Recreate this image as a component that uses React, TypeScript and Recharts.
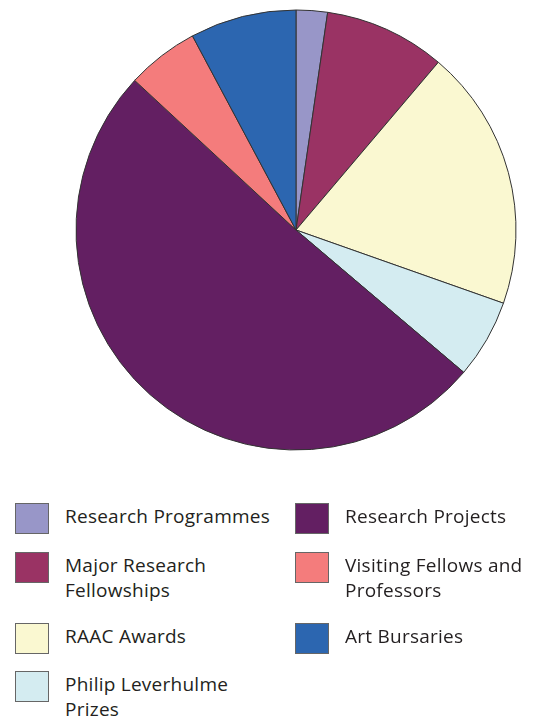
import { Cell, Pie, PieChart } from "recharts";

const CATEGORIES = [
  "Research Programmes",
  "Major Research Fellowships",
  "RAAC Awards",
  "Philip Leverhulme Prizes",
  "Research Projects",
  "Visiting Fellows and Professors",
  "Art Bursaries",
];
const SHARES = [2.3, 8.9, 19.2, 5.8, 50.7, 5.3, 7.8];
const COLORS = ["#9896c8", "#9a3364", "#faf8d1", "#d4ecf1", "#631f62", "#f47c7c", "#2c66b0"];

// legend order as in the reference: left column, then right column
const LEGEND_LEFT = [0, 1, 2, 3];
const LEGEND_RIGHT = [4, 5, 6];
const ROW_TOPS = [503, 552, 623, 671];

const data = CATEGORIES.map((name, i) => ({ name, value: SHARES[i] }));

function LegendItem({ idx, x, y }: { idx: number; x: number; y: number }) {
  return (
    <div style={{ position: "absolute", left: x, top: y, display: "flex", alignItems: "flex-start" }}>
      <div
        style={{
          width: 32,
          height: 29,
          background: COLORS[idx],
          border: "1px solid #666",
          flexShrink: 0,
        }}
      />
      <div
        style={{
          marginLeft: 16,
          marginTop: 1,
          fontFamily: "'Open Sans', sans-serif",
          fontSize: 19,
          letterSpacing: 0.25,
          lineHeight: "25px",
          color: "#231f20",
          width: 210,
        }}
      >
        {CATEGORIES[idx]}
      </div>
    </div>
  );
}

export default function App() {
  return (
    <div style={{ position: "fixed", left: 0, top: 0, width: 534, height: 722, background: "#fff" }}>
      <PieChart width={534} height={470}>
        <Pie
          data={data}
          dataKey="value"
          nameKey="name"
          cx={291}
          cy={225}
          outerRadius={220}
          startAngle={90}
          endAngle={-270}
          stroke="#333"
          strokeWidth={1}
          isAnimationActive={false}
        >
          {data.map((_, i) => (
            <Cell key={i} fill={COLORS[i]} />
          ))}
        </Pie>
      </PieChart>
      {LEGEND_LEFT.map((idx, r) => (
        <LegendItem key={idx} idx={idx} x={15} y={ROW_TOPS[r]} />
      ))}
      {LEGEND_RIGHT.map((idx, r) => (
        <LegendItem key={idx} idx={idx} x={295} y={ROW_TOPS[r]} />
      ))}
    </div>
  );
}
